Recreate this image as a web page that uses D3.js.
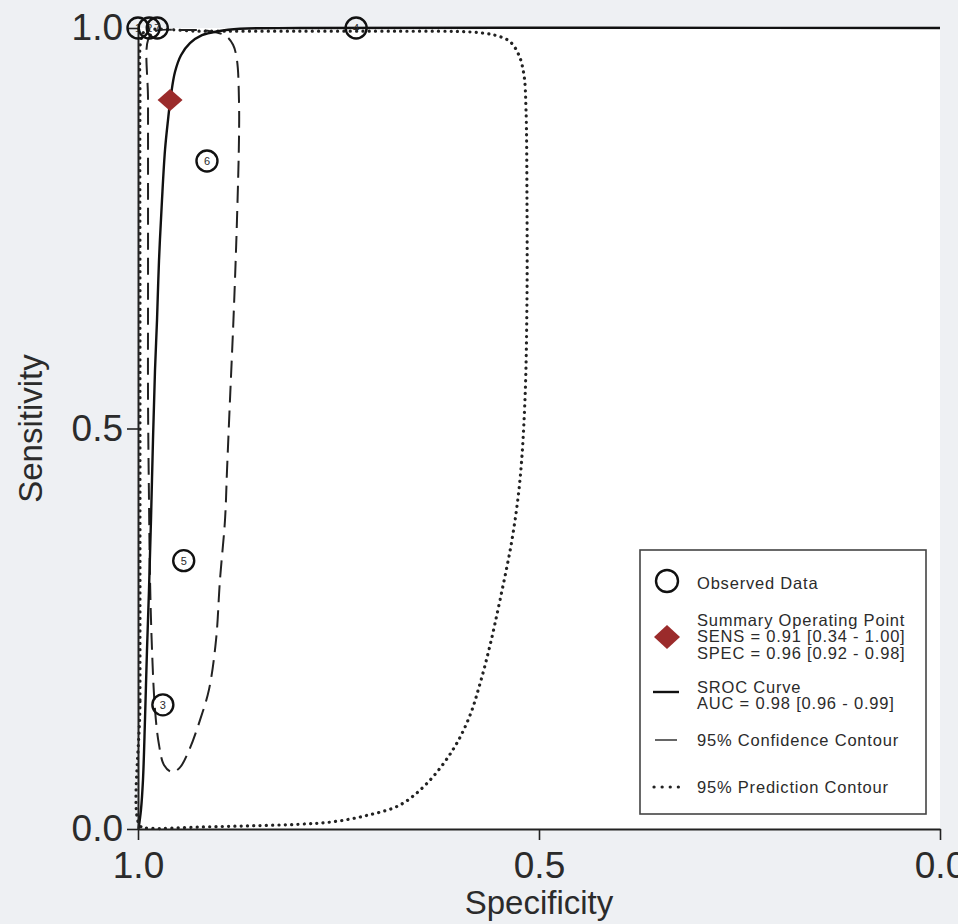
<!DOCTYPE html>
<html>
<head>
<meta charset="utf-8">
<script src="https://cdn.jsdelivr.net/npm/d3@7"></script>
<style>
  body { margin: 0; background: #eef0f3; }
  svg { display: block; }
  text { font-family: "Liberation Sans", Arial, sans-serif; fill: #2b2b2b; }
</style>
</head>
<body>
<script>
// observed studies: [specificity, sensitivity, label]
const studies = [
  [1.000, 1.000, '1'],
  [0.986, 1.000, '2'],
  [0.976, 1.000, '7'],
  [0.728, 1.000, '4'],
  [0.914, 0.834, '6'],
  [0.943, 0.335, '5'],
  [0.969, 0.155, '3']
];

const summaryPoint = [0.96, 0.91];

// fitted SROC curve
const srocCurve = [
  [0.9994, 0.000], [0.9963, 0.024], [0.9938, 0.061], [0.9913, 0.136],
  [0.9888, 0.223], [0.9863, 0.298], [0.9838, 0.386], [0.9813, 0.486],
  [0.9788, 0.573], [0.9763, 0.635], [0.9738, 0.710], [0.9701, 0.785],
  [0.9663, 0.848], [0.9626, 0.885], [0.9589, 0.916], [0.9539, 0.945],
  [0.9464, 0.966], [0.9352, 0.981], [0.9202, 0.991], [0.9002, 0.996],
  [0.8728, 0.999], [0.798, 1.000], [0.000, 1.000]
];

const confidenceContour = [
  [0.9875, 0.985], [0.9788, 0.996], [0.9476, 0.9975], [0.9102, 0.996],
  [0.8903, 0.990], [0.8815, 0.979], [0.8766, 0.960], [0.8741, 0.910],
  [0.8741, 0.860], [0.8766, 0.760], [0.8791, 0.685], [0.8815, 0.623],
  [0.8853, 0.536], [0.8890, 0.448], [0.8915, 0.386], [0.8978, 0.311],
  [0.9027, 0.236], [0.9115, 0.174], [0.9227, 0.136], [0.9352, 0.101],
  [0.9476, 0.077], [0.9576, 0.071], [0.9676, 0.080], [0.9738, 0.105],
  [0.9788, 0.149], [0.9825, 0.223], [0.9850, 0.311], [0.9863, 0.411],
  [0.9875, 0.536], [0.9875, 0.660], [0.9875, 0.785], [0.9875, 0.910]
];

const predictionContour = [
  [0.9975, 0.004], [0.9975, 0.161], [0.9975, 0.411], [0.9975, 0.660],
  [0.9975, 0.910], [0.9963, 0.985], [0.9913, 0.996], [0.9227, 0.996],
  [0.798, 0.996], [0.6733, 0.996], [0.586, 0.995], [0.5549, 0.991],
  [0.5362, 0.983], [0.525, 0.966], [0.5187, 0.941], [0.5162, 0.898],
  [0.515, 0.785], [0.515, 0.660], [0.5175, 0.536], [0.5237, 0.436],
  [0.5337, 0.361], [0.5486, 0.286], [0.5609, 0.230], [0.5734, 0.182],
  [0.5868, 0.140], [0.6073, 0.099], [0.6397, 0.057], [0.6733, 0.030],
  [0.7145, 0.017], [0.7569, 0.009], [0.798, 0.006], [0.8603, 0.004],
  [0.9227, 0.0025], [0.985, 0.001]
];

const tickValues = [1.0, 0.5, 0.0];
const legendLines = [
  ['Observed Data'],
  ['Summary Operating Point', 'SENS = 0.91 [0.34 - 1.00]', 'SPEC = 0.96 [0.92 - 0.98]'],
  ['SROC Curve', 'AUC = 0.98 [0.96 - 0.99]'],
  ['95% Confidence Contour'],
  ['95% Prediction Contour']
];

const width = 958, height = 924;
const plotLeft = 138, plotRight = 940, plotTop = 28, plotBottom = 829;

const svg = d3.select('body').append('svg')
  .attr('width', width)
  .attr('height', height);

const x = d3.scaleLinear().domain([1, 0]).range([plotLeft, plotRight]);
const y = d3.scaleLinear().domain([0, 1]).range([plotBottom, plotTop]);

svg.append('rect')
  .attr('x', plotLeft).attr('y', plotTop)
  .attr('width', plotRight - plotLeft).attr('height', plotBottom - plotTop)
  .attr('fill', '#fff');

const line = d3.line().x(d => x(d[0])).y(d => y(d[1]));

// prediction contour (dotted)
svg.append('path')
  .attr('d', line.curve(d3.curveCatmullRomClosed)(predictionContour))
  .attr('fill', 'none')
  .attr('stroke', '#222')
  .attr('stroke-width', 3.2)
  .attr('stroke-linecap', 'round')
  .attr('stroke-dasharray', '0.1 6.2');

// confidence contour (dashed)
svg.append('path')
  .attr('d', line.curve(d3.curveCatmullRomClosed)(confidenceContour))
  .attr('fill', 'none')
  .attr('stroke', '#222')
  .attr('stroke-width', 2)
  .attr('stroke-dasharray', '17 8');

// SROC curve
svg.append('path')
  .attr('d', line.curve(d3.curveCatmullRom)(srocCurve))
  .attr('fill', 'none')
  .attr('stroke', '#111')
  .attr('stroke-width', 2.4);

// axes
const xAxis = svg.append('g')
  .attr('transform', `translate(0,${plotBottom})`)
  .call(d3.axisBottom(x).tickValues(tickValues).tickFormat(d3.format('.1f'))
    .tickSize(11).tickSizeOuter(0).tickPadding(12));
const yAxis = svg.append('g')
  .attr('transform', `translate(${plotLeft},0)`)
  .call(d3.axisLeft(y).tickValues(tickValues).tickFormat(d3.format('.1f'))
    .tickSize(11).tickSizeOuter(0).tickPadding(4));

[xAxis, yAxis].forEach(g => {
  g.select('.domain').attr('stroke', '#222').attr('stroke-width', 2);
  g.selectAll('.tick line').attr('stroke', '#222').attr('stroke-width', 1.6);
  g.selectAll('.tick text')
    .style('font-family', '"Liberation Sans", Arial, sans-serif')
    .style('font-size', '37px')
    .attr('fill', '#2b2b2b');
});

svg.append('text')
  .attr('x', (plotLeft + plotRight) / 2).attr('y', 914)
  .attr('text-anchor', 'middle')
  .style('font-size', '33px')
  .text('Specificity');

svg.append('text')
  .attr('transform', `translate(42,${(plotTop + plotBottom) / 2}) rotate(-90)`)
  .attr('text-anchor', 'middle')
  .style('font-size', '33px')
  .text('Sensitivity');

// observed data
const obs = svg.append('g').selectAll('g')
  .data(studies)
  .join('g')
  .attr('transform', d => `translate(${x(d[0])},${y(d[1])})`);
obs.append('circle')
  .attr('r', 10.5)
  .attr('fill', 'none')
  .attr('stroke', '#111')
  .attr('stroke-width', 2.4);
obs.append('text')
  .attr('text-anchor', 'middle')
  .attr('dy', '0.36em')
  .style('font-size', '11px')
  .text(d => d[2]);

// summary operating point
const diamond = (cx, cy, w, h) => `M${cx - w},${cy}L${cx},${cy - h}L${cx + w},${cy}L${cx},${cy + h}Z`;
svg.append('path')
  .attr('d', diamond(x(summaryPoint[0]), y(summaryPoint[1]), 12.5, 11))
  .attr('fill', '#9b2b2b');

// legend
const lg = svg.append('g');
lg.append('rect')
  .attr('x', 640).attr('y', 550)
  .attr('width', 286).attr('height', 264)
  .attr('fill', '#fff')
  .attr('stroke', '#444')
  .attr('stroke-width', 1.6);

const rowY = [583, 620, 687, 740, 787];
const lineGap = 16.5;
legendLines.forEach((rows, i) => {
  rows.forEach((t, j) => {
    lg.append('text')
      .attr('x', 697).attr('y', rowY[i] + j * lineGap)
      .attr('dy', '0.36em')
      .style('font-size', '16.5px')
      .style('letter-spacing', '0.8px')
      .text(t);
  });
});

lg.append('circle').attr('cx', 667).attr('cy', 581).attr('r', 11)
  .attr('fill', 'none').attr('stroke', '#111').attr('stroke-width', 2.4);
lg.append('path').attr('d', diamond(667, 637, 13, 12)).attr('fill', '#9b2b2b');
lg.append('line').attr('x1', 653).attr('x2', 679).attr('y1', 692).attr('y2', 692)
  .attr('stroke', '#111').attr('stroke-width', 2.4);
lg.append('line').attr('x1', 655).attr('x2', 677).attr('y1', 740).attr('y2', 740)
  .attr('stroke', '#333').attr('stroke-width', 1.5);
lg.append('line').attr('x1', 654).attr('x2', 680).attr('y1', 787).attr('y2', 787)
  .attr('stroke', '#222').attr('stroke-width', 3.2)
  .attr('stroke-linecap', 'round').attr('stroke-dasharray', '0.1 8');
</script>
</body>
</html>
